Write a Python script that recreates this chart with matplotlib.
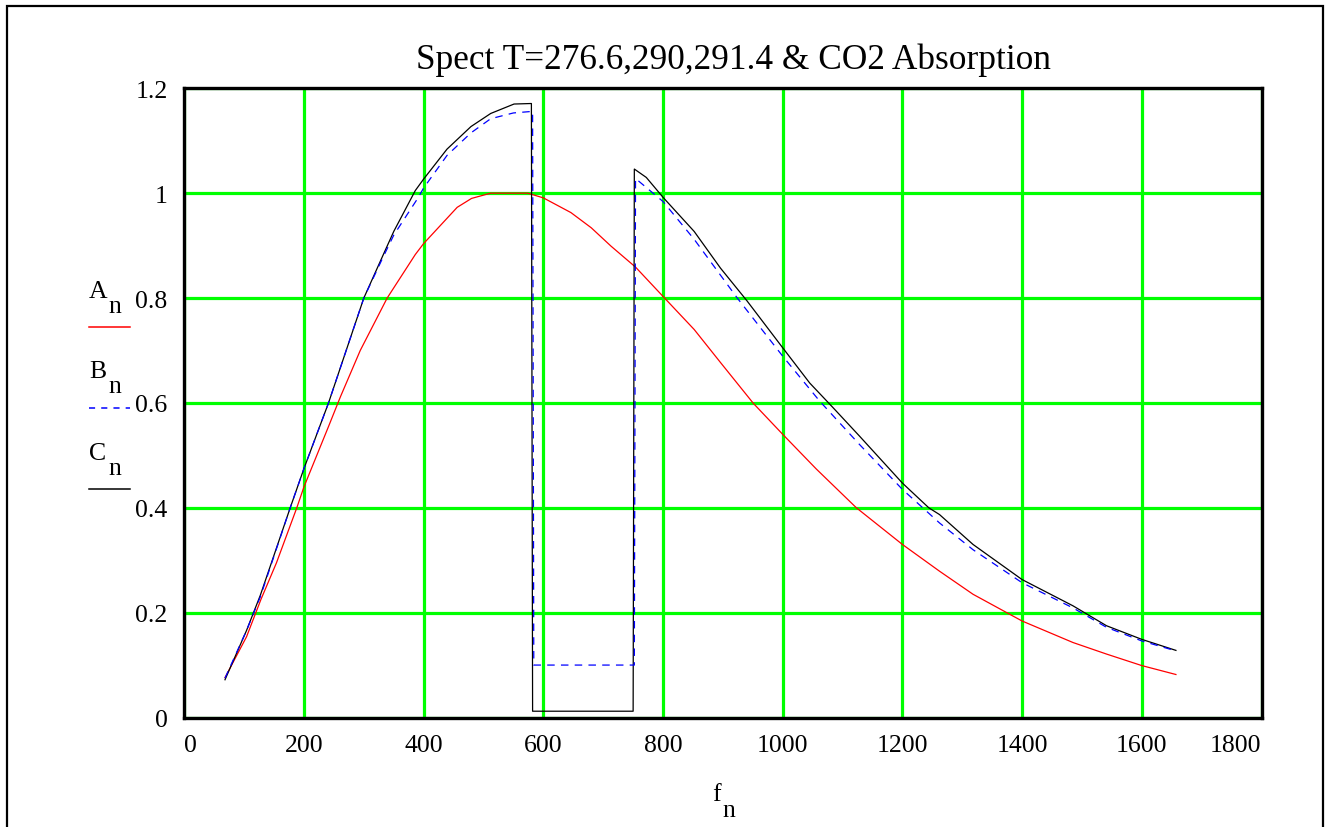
import matplotlib
matplotlib.use("Agg")
import matplotlib.pyplot as plt
from matplotlib.lines import Line2D
from matplotlib.patches import Rectangle

## values

# A_n, red solid (T=276.6)
fA = [68, 104, 128, 154, 188, 200, 241, 261, 294, 339, 386, 400, 456, 480, 512, 574, 600, 646, 680, 713,
      754, 800, 852, 896, 951, 1000, 1056, 1123, 1200, 1262, 1318, 1400, 1485, 1541, 1600, 1657]
A = [0.076, 0.154, 0.225, 0.295, 0.40, 0.44, 0.555, 0.612, 0.70, 0.80, 0.883, 0.904, 0.973, 0.99, 1.0, 1.0,
     0.991, 0.963, 0.934, 0.899, 0.859, 0.803, 0.74, 0.677, 0.599, 0.54, 0.474, 0.40, 0.33, 0.279, 0.235,
     0.184, 0.143, 0.121, 0.099, 0.082]

# B_n, blue dashed (T=290)
fB = [68, 104, 127, 177, 200, 241, 300, 333, 350, 390, 400, 439, 479, 512, 550, 582, 584, 752, 754,
      800, 852, 924, 1000, 1062, 1128, 1200, 1262, 1318, 1400, 1485, 1541, 1600, 1657]
B = [0.075, 0.166, 0.23, 0.40, 0.475, 0.60, 0.80, 0.88, 0.92, 0.99, 1.01, 1.072, 1.115, 1.142, 1.153, 1.156,
     0.10, 0.10, 1.028, 0.984, 0.912, 0.80, 0.689, 0.603, 0.521, 0.435, 0.371, 0.32, 0.257, 0.209, 0.172,
     0.146, 0.127]

# C_n, black solid (T=291.4)
fC = [68, 104, 127, 177, 200, 241, 300, 333, 350, 386, 400, 439, 479, 512, 551, 580, 582, 750, 752,
      772, 800, 852, 896, 940, 1000, 1045, 1084, 1128, 1200, 1244, 1262, 1318, 1400, 1485, 1541, 1600, 1657]
C = [0.072, 0.166, 0.233, 0.40, 0.475, 0.60, 0.80, 0.884, 0.927, 1.005, 1.027, 1.084, 1.127, 1.152, 1.17,
     1.171, 0.012, 0.012, 1.046, 1.03, 0.992, 0.927, 0.857, 0.795, 0.705, 0.638, 0.591, 0.537, 0.447, 0.40,
     0.387, 0.33, 0.263, 0.213, 0.175, 0.149, 0.128]

xticks = [0, 200, 400, 600, 800, 1000, 1200, 1400, 1600, 1800]
yticks = [0, 0.2, 0.4, 0.6, 0.8, 1.0, 1.2]
ytick_labels = ["0", "0.2", "0.4", "0.6", "0.8", "1", "1.2"]

plt.rcParams['font.family'] = ['Liberation Serif', 'DejaVu Serif']

W, H = 1332, 828
fig = plt.figure(figsize=(W / 100, H / 100), dpi=100)

# helper: pixel position -> figure fraction
def fx(px):
    return px / W

def fy(py):
    return 1 - py / H

ax = fig.add_axes([fx(184.3), fy(718.5), fx(1261.5) - fx(184.3), fy(89.3) - fy(718.5)])

ax.plot(fA, A, color='#ff0000', lw=0.9, zorder=3)
ax.plot(fC, C, color='black', lw=0.9, zorder=4)
ax.plot(fB, B, color='#0000ff', lw=0.9, ls=(0, (6, 5)), zorder=5)

ax.set_xlim(0, 1800)
ax.set_ylim(0, 1.2)
ax.set_xticks(xticks)
ax.set_yticks(yticks)
ax.set_yticklabels(ytick_labels)
ax.grid(True, color='#00ff00', lw=2.3)
ax.set_axisbelow(True)
ax.tick_params(length=0, labelsize=18.5, pad=12)
labs = ax.get_xticklabels()
labs[0].set_horizontalalignment('left')
labs[-1].set_horizontalalignment('right')
for s in ax.spines.values():
    s.set_linewidth(2.4)
    s.set_zorder(6)

# title
fig.text(fx(733), fy(60), "Spect T=276.6,290,291.4 & CO2 Absorption", ha='center', va='center', fontsize=25.4)

# x axis label f_n
fig.text(fx(712), fy(801), "f", fontsize=18.5, ha='left', va='baseline')
fig.text(fx(722), fy(817), "n", fontsize=18.5, ha='left', va='baseline')

# legend at left, Mathcad style
legend = [("A", '#ff0000', '-', 298, 328), ("B", '#0000ff', (0, (4, 4)), 378, 409), ("C", 'black', '-', 460, 490)]
for name, col, style, base, liney in legend:
    fig.text(fx(89), fy(base), name, fontsize=18.5, ha='left', va='baseline')
    fig.text(fx(108), fy(base + 15), "n", fontsize=18.5, ha='left', va='baseline')
    fig.add_artist(Line2D([fx(89), fx(130)], [fy(liney), fy(liney)], color=col, lw=1.1, ls=style))

# outer frame
fig.add_artist(Rectangle((fx(7), fy(900)), fx(1323) - fx(7), fy(7) - fy(900), fill=False,
                         edgecolor='black', lw=1.6, transform=fig.transFigure))

fig.savefig("out.png", dpi=100)
